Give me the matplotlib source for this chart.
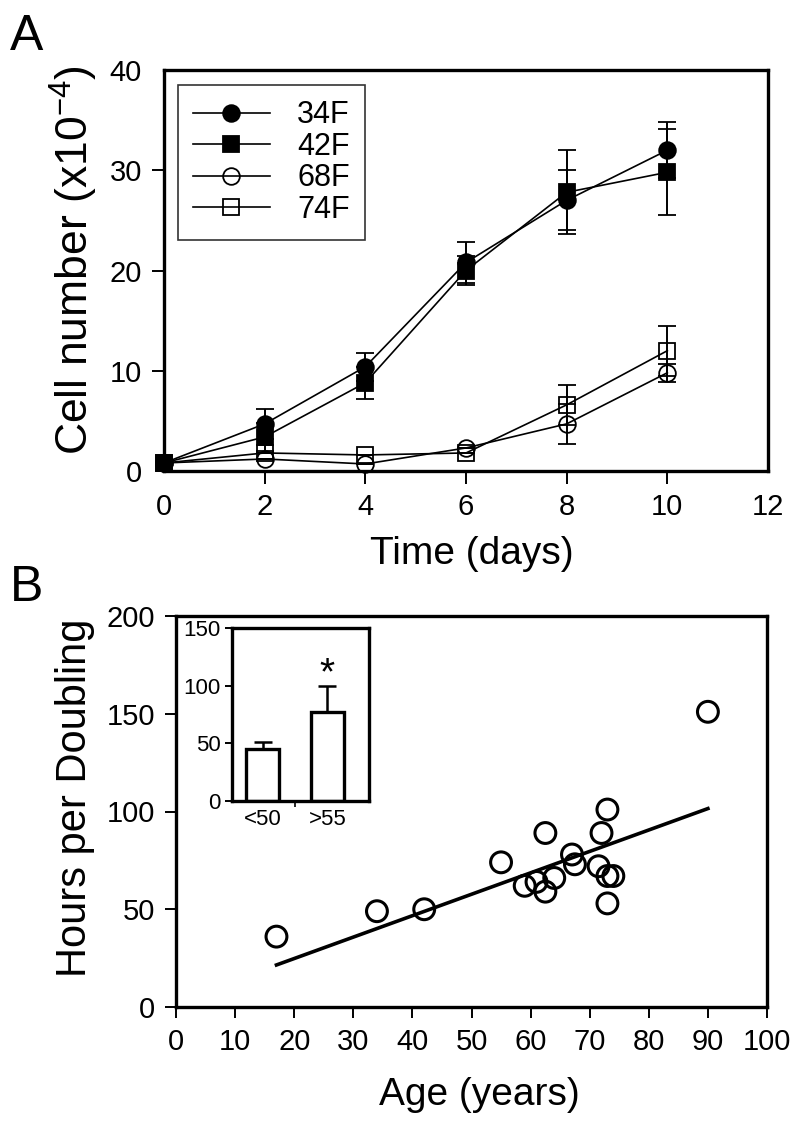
import numpy as np
import matplotlib
matplotlib.use('Agg')
import matplotlib.pyplot as plt
from matplotlib.lines import Line2D

plt.rcParams['font.family'] = ['Liberation Sans', 'DejaVu Sans']
plt.rcParams['mathtext.default'] = 'regular'

# Panel A: growth curves
days = [0, 2, 4, 6, 8, 10]
names = ['34F', '42F', '68F', '74F']
cells_34F = [0.8, 4.7, 10.4, 20.8, 27.0, 32.0]
err_34F = [0.0, 1.5, 1.4, 2.0, 3.0, 2.8]
cells_42F = [0.8, 3.4, 8.8, 20.0, 27.8, 29.8]
err_42F = [0.0, 1.4, 1.6, 1.4, 4.2, 4.3]
cells_68F = [0.8, 1.2, 0.7, 2.3, 4.7, 9.8]
err_68F = [0.0, 0.0, 0.0, 0.0, 2.0, 0.9]
cells_74F = [0.8, 1.8, 1.6, 1.8, 6.6, 12.0]
err_74F = [0.0, 0.0, 0.0, 0.0, 2.0, 2.5]

# Panel B: doubling time vs age
ages = [17, 34, 42, 55, 59, 61, 62.5, 62.5, 64, 67, 67.5, 71.5, 72, 73, 73, 73, 74, 90]
hours = [36, 49, 50, 74, 62, 64, 89, 59, 66, 78, 73, 72, 89, 101, 53, 67, 67, 151]
fit_age = [17, 90]
fit_hours = [21.5, 101.5]

# inset bars
groups = ['<50', '>55']
group_mean = [45, 77]
group_err = [6.5, 22.5]

fig = plt.figure(figsize=(8, 11.27), dpi=100)

# ---- panel A
axA = fig.add_axes([164/800, 1-471/1127, 604/800, 401/1127])
series = [(cells_34F, err_34F, 'o', 'k'),
          (cells_42F, err_42F, 's', 'k'),
          (cells_68F, err_68F, 'o', 'none'),
          (cells_74F, err_74F, 's', 'none')]
handles = []
for name, (vals, errs, mk, fc) in zip(names, series):
    axA.errorbar(days, vals, yerr=errs, color='k', lw=1.2, marker=mk, ms=12,
                 mfc=fc, mec='k', mew=1.3, capsize=6.5, capthick=1.4,
                 elinewidth=1.4, clip_on=False, zorder=3)
    handles.append(Line2D([], [], color='k', lw=1.2, marker=mk, ms=12,
                          mfc=fc, mec='k', mew=1.3, label=name))
axA.set_xlim(0, 12)
axA.set_ylim(0, 40)
axA.set_xticks(range(0, 13, 2))
axA.set_yticks(range(0, 41, 10))
axA.tick_params(direction='out', length=9, width=1.4, labelsize=21, pad=7)
for t in (axA.xaxis.get_major_ticks()[0], axA.xaxis.get_major_ticks()[-1],
          axA.yaxis.get_major_ticks()[0], axA.yaxis.get_major_ticks()[-1]):
    t.tick1line.set_visible(False)
for s in axA.spines.values():
    s.set_linewidth(2.4)
axA.set_xlabel('Time (days)', fontsize=28, va='center')
axA.set_ylabel('Cell number (x10$^{-4}$)', fontsize=32, va='center')
axA.xaxis.set_label_coords(0.51, -0.207)
axA.yaxis.set_label_coords(-0.149, 0.526)
leg = axA.legend(handles=handles, loc='upper left',
                 bbox_to_anchor=(14/604, 1-15/401), borderaxespad=0,
                 fontsize=22, frameon=True, fancybox=False, edgecolor='k',
                 handlelength=2.5, borderpad=0.5, labelspacing=0.05,
                 handletextpad=0.9)
leg.get_frame().set_linewidth(1.2)
fig.text(0.012, 0.988, 'A', fontsize=36, ha='left', va='top')

# ---- panel B
axB = fig.add_axes([176/800, 1-1007/1127, 591/800, 391/1127])
axB.scatter(ages, hours, s=15**2, facecolors='none', edgecolors='k',
            linewidths=2.2, zorder=3)
axB.plot(fit_age, fit_hours, color='k', lw=2.6, zorder=2)
axB.set_xlim(0, 100)
axB.set_ylim(0, 200)
axB.set_xticks(range(0, 101, 10))
axB.set_yticks(range(0, 201, 50))
axB.tick_params(direction='out', length=8, width=1.4, labelsize=21, pad=7)
for s in axB.spines.values():
    s.set_linewidth(2.4)
axB.set_xlabel('Age (years)', fontsize=28, va='center')
axB.set_ylabel('Hours per Doubling', fontsize=30, va='center')
axB.xaxis.set_label_coords(0.514, -0.225)
axB.yaxis.set_label_coords(-0.171, 0.535)
fig.text(0.012, 1-565/1127, 'B', fontsize=36, ha='left', va='top')

# ---- inset
ins = fig.add_axes([232/800, 1-801/1127, 137/800, 173/1127])
xpos = np.arange(len(groups))
ins.bar(xpos, group_mean, width=0.52, color='white', edgecolor='k', linewidth=2.4)
ins.errorbar(xpos, group_mean, yerr=[[0, 0], group_err], fmt='none', ecolor='k',
             elinewidth=1.8, capsize=6.5, capthick=1.8)
ins.text(xpos[1], 110, '*', fontsize=28, ha='center', va='center')
ins.set_xlim(-0.47, 1.64)
ins.set_ylim(0, 150)
ins.set_yticks([0, 50, 100, 150])
ins.set_xticks(xpos)
ins.set_xticklabels(groups)
ins.set_xticks([0.5], minor=True)
ins.tick_params(axis='x', which='major', length=0, labelsize=16, pad=6)
ins.tick_params(axis='x', which='minor', direction='out', length=4, width=1.2)
ins.tick_params(axis='y', direction='out', length=5, width=1.4, labelsize=16, pad=3)
for s in ins.spines.values():
    s.set_linewidth(2.4)

fig.savefig('out.png', dpi=100)
